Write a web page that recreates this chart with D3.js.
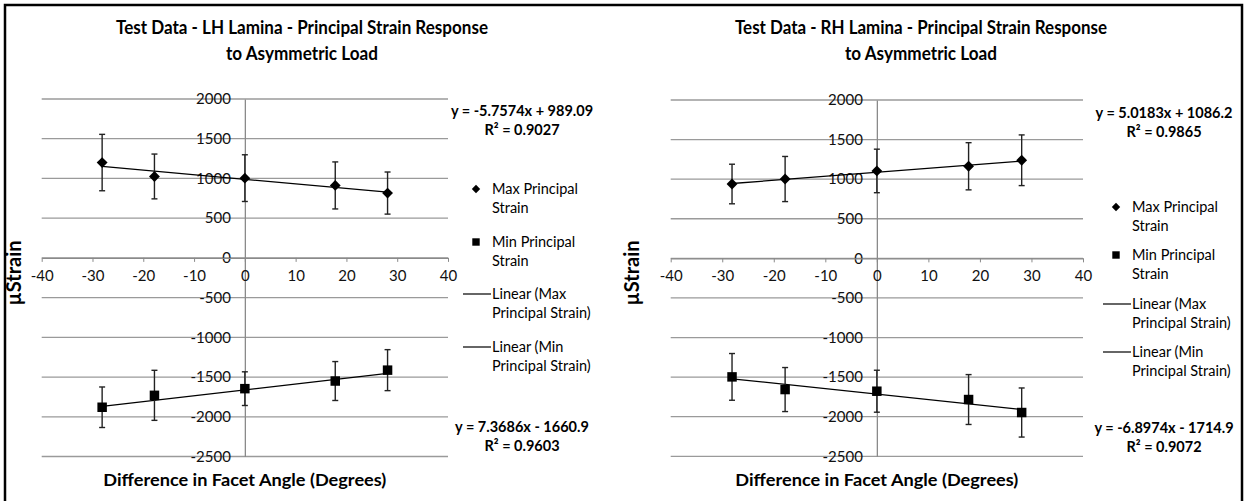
<!DOCTYPE html>
<html>
<head>
<meta charset="UTF-8">
<script src="https://cdn.jsdelivr.net/npm/d3@7"></script>
<style>
body { margin:0; background:#fff; }
text { font-family: Lato, "Open Sans", sans-serif; }
</style>
</head>
<body>
<script>

// data
var angles = [-28.1, -17.8, 0, 17.8, 28.1];

var lhMax    = [1200, 1025, 1004, 912, 816];
var lhMaxErr = [355, 282, 294, 296, 265];
var lhMin    = [-1880, -1730, -1646, -1550, -1413];
var lhMinErr = [255, 315, 212, 245, 258];

var rhMax    = [939, 1002, 1104, 1163, 1239];
var rhMaxErr = [250, 285, 275, 298, 320];
var rhMin    = [-1497, -1657, -1678, -1783, -1947];
var rhMinErr = [295, 278, 265, 315, 310];

// trendline slope / intercept (from the equation labels)
var lhMaxFit = [-5.7574, 989.09];
var lhMinFit = [7.3686, -1660.9];
var rhMaxFit = [5.0183, 1086.2];
var rhMinFit = [-6.8974, -1714.9];

var xTicks = [-40, -30, -20, -10, 0, 10, 20, 30, 40];
var yTicks = [-2500, -2000, -1500, -1000, -500, 0, 500, 1000, 1500, 2000];

var legendLabels = [["Max Principal", "Strain"], ["Min Principal", "Strain"],
                    ["Linear (Max", "Principal Strain)"], ["Linear (Min", "Principal Strain)"]];

var width = 1244;
var height = 501;

var svg = d3.select('body')
    .append('svg')
    .attr('width', width)
    .attr('height', height);

// outer frame
svg.append("rect")
    .attr("x", 5).attr("y", 5)
    .attr("width", 1237).attr("height", 510)
    .attr("fill", "none")
    .attr("stroke", "black")
    .attr("stroke-width", 2.5);

var panels = [
    {
        title: ["Test Data - LH Lamina - Principal Strain Response", "to Asymmetric Load"],
        titleX: 302,
        x0: 41.7, x1: 448,
        y0: 456.5, y1: 99,
        max: lhMax, maxErr: lhMaxErr, min: lhMin, minErr: lhMinErr,
        maxFit: lhMaxFit, minFit: lhMinFit,
        maxEq: ["y = -5.7574x + 989.09", "R² = 0.9027"],
        minEq: ["y = 7.3686x - 1660.9", "R² = 0.9603"],
        eqX: 522, maxEqY: 116, minEqY: 432,
        legX: 476, legY: [189, 242, 294, 347],
        yTitleX: 21
    },
    {
        title: ["Test Data - RH Lamina - Principal Strain Response", "to Asymmetric Load"],
        titleX: 921,
        x0: 670.7, x1: 1083,
        y0: 456.3, y1: 100,
        max: rhMax, maxErr: rhMaxErr, min: rhMin, minErr: rhMinErr,
        maxFit: rhMaxFit, minFit: rhMinFit,
        maxEq: ["y = 5.0183x + 1086.2", "R² = 0.9865"],
        minEq: ["y = -6.8974x - 1714.9", "R² = 0.9072"],
        eqX: 1164, maxEqY: 118, minEqY: 433,
        legX: 1116, legY: [207, 255, 304, 352],
        yTitleX: 639
    }
];

var titleWidths = [372, 152];

panels.forEach(function(p) {
    var x = d3.scaleLinear().domain([-40, 40]).range([p.x0, p.x1]);
    var y = d3.scaleLinear().domain([-2500, 2000]).range([p.y0, p.y1]);
    var g = svg.append("g");

    // title
    g.selectAll(".title")
        .data(p.title)
        .enter().append("text")
        .attr("x", p.titleX)
        .attr("y", function(d, i) { return 34 + i * 26; })
        .attr("text-anchor", "middle")
        .attr("font-size", 19.5)
        .attr("font-weight", "bold")
        .attr("textLength", function(d, i) { return titleWidths[i]; })
        .attr("lengthAdjust", "spacingAndGlyphs")
        .text(function(d) { return d; });

    // horizontal gridlines
    g.selectAll(".grid")
        .data(yTicks)
        .enter().append("line")
        .attr("x1", p.x0).attr("x2", p.x1)
        .attr("y1", function(d) { return y(d); })
        .attr("y2", function(d) { return y(d); })
        .attr("stroke", "#9a9a9a")
        .attr("stroke-width", 1.3);

    // y axis at x = 0
    var yAxis = g.append("g")
        .attr("transform", "translate(" + x(0) + ",0)")
        .call(d3.axisLeft(y).tickValues(yTicks).tickSize(0).tickPadding(14)
            .tickFormat(function(d) { return String(d); }));
    yAxis.select(".domain").attr("stroke", "#8a8a8a").attr("stroke-width", 1.3);
    yAxis.selectAll("text").attr("font-size", 15).attr("fill", "#111")
        .attr("font-family", "Lato, sans-serif");

    // x axis at y = 0
    var xAxis = g.append("g")
        .attr("transform", "translate(0," + y(0) + ")")
        .call(d3.axisBottom(x).tickValues(xTicks).tickSize(4).tickPadding(8).tickSizeOuter(0)
            .tickFormat(function(d) { return String(d); }));
    xAxis.select(".domain").attr("stroke", "#8a8a8a").attr("stroke-width", 1.3);
    xAxis.selectAll("line").attr("stroke", "#8a8a8a");
    xAxis.selectAll("text").attr("font-size", 15).attr("fill", "#111")
        .attr("font-family", "Lato, sans-serif");

    // axis titles
    g.append("text")
        .attr("x", x(0))
        .attr("y", 486)
        .attr("text-anchor", "middle")
        .attr("font-size", 17)
        .attr("font-weight", "bold")
        .attr("textLength", 283)
        .attr("lengthAdjust", "spacingAndGlyphs")
        .text("Difference in Facet Angle (Degrees)");

    g.append("text")
        .attr("transform", "translate(" + p.yTitleX + ",273) rotate(-90)")
        .attr("text-anchor", "middle")
        .attr("font-size", 20)
        .attr("font-weight", "bold")
        .text("µStrain");

    // trendlines
    var fitLine = d3.line()
        .x(function(d) { return x(d[0]); })
        .y(function(d) { return y(d[1]); });
    [p.maxFit, p.minFit].forEach(function(f) {
        var ends = d3.extent(angles).map(function(a) { return [a, f[0] * a + f[1]]; });
        g.append("path")
            .attr("d", fitLine(ends))
            .attr("fill", "none")
            .attr("stroke", "black")
            .attr("stroke-width", 1.3);
    });

    // error bars
    function errorBars(vals, errs) {
        var eg = g.append("g").attr("stroke", "#222").attr("stroke-width", 1.4);
        vals.forEach(function(v, i) {
            var cx = x(angles[i]);
            eg.append("line").attr("x1", cx).attr("x2", cx)
                .attr("y1", y(v + errs[i])).attr("y2", y(v - errs[i]));
            eg.append("line").attr("x1", cx - 3).attr("x2", cx + 3)
                .attr("y1", y(v + errs[i])).attr("y2", y(v + errs[i]));
            eg.append("line").attr("x1", cx - 3).attr("x2", cx + 3)
                .attr("y1", y(v - errs[i])).attr("y2", y(v - errs[i]));
        });
    }
    errorBars(p.max, p.maxErr);
    errorBars(p.min, p.minErr);

    // markers
    var diamond = d3.symbol().type(d3.symbolDiamond2).size(75);
    var square = d3.symbol().type(d3.symbolSquare).size(90);
    g.selectAll(".maxpt")
        .data(p.max)
        .enter().append("path")
        .attr("d", diamond)
        .attr("transform", function(d, i) { return "translate(" + x(angles[i]) + "," + y(d) + ")"; })
        .attr("fill", "black");
    g.selectAll(".minpt")
        .data(p.min)
        .enter().append("path")
        .attr("d", square)
        .attr("transform", function(d, i) { return "translate(" + x(angles[i]) + "," + y(d) + ")"; })
        .attr("fill", "black");

    // equations
    [[p.maxEq, p.maxEqY], [p.minEq, p.minEqY]].forEach(function(e) {
        g.selectAll(null)
            .data(e[0])
            .enter().append("text")
            .attr("x", p.eqX)
            .attr("y", function(d, i) { return e[1] + i * 19; })
            .attr("text-anchor", "middle")
            .attr("font-size", 14.5)
            .attr("font-weight", "bold")
            .text(function(d) { return d; });
    });

    // legend
    legendLabels.forEach(function(lab, i) {
        var ly = p.legY[i];
        if (i == 0) {
            g.append("path").attr("d", d3.symbol().type(d3.symbolDiamond2).size(45))
                .attr("transform", "translate(" + p.legX + "," + ly + ")").attr("fill", "black");
        } else if (i == 1) {
            g.append("path").attr("d", d3.symbol().type(d3.symbolSquare).size(55))
                .attr("transform", "translate(" + p.legX + "," + ly + ")").attr("fill", "black");
        } else {
            g.append("line").attr("x1", p.legX - 13).attr("x2", p.legX + 15)
                .attr("y1", ly).attr("y2", ly)
                .attr("stroke", "black").attr("stroke-width", 1.2);
        }
        g.selectAll(null)
            .data(lab)
            .enter().append("text")
            .attr("x", p.legX + 16)
            .attr("y", function(d, j) { return ly + 5 + j * 19; })
            .attr("font-size", 14.5)
            .text(function(d) { return d; });
    });
});

</script>
</body>
</html>
